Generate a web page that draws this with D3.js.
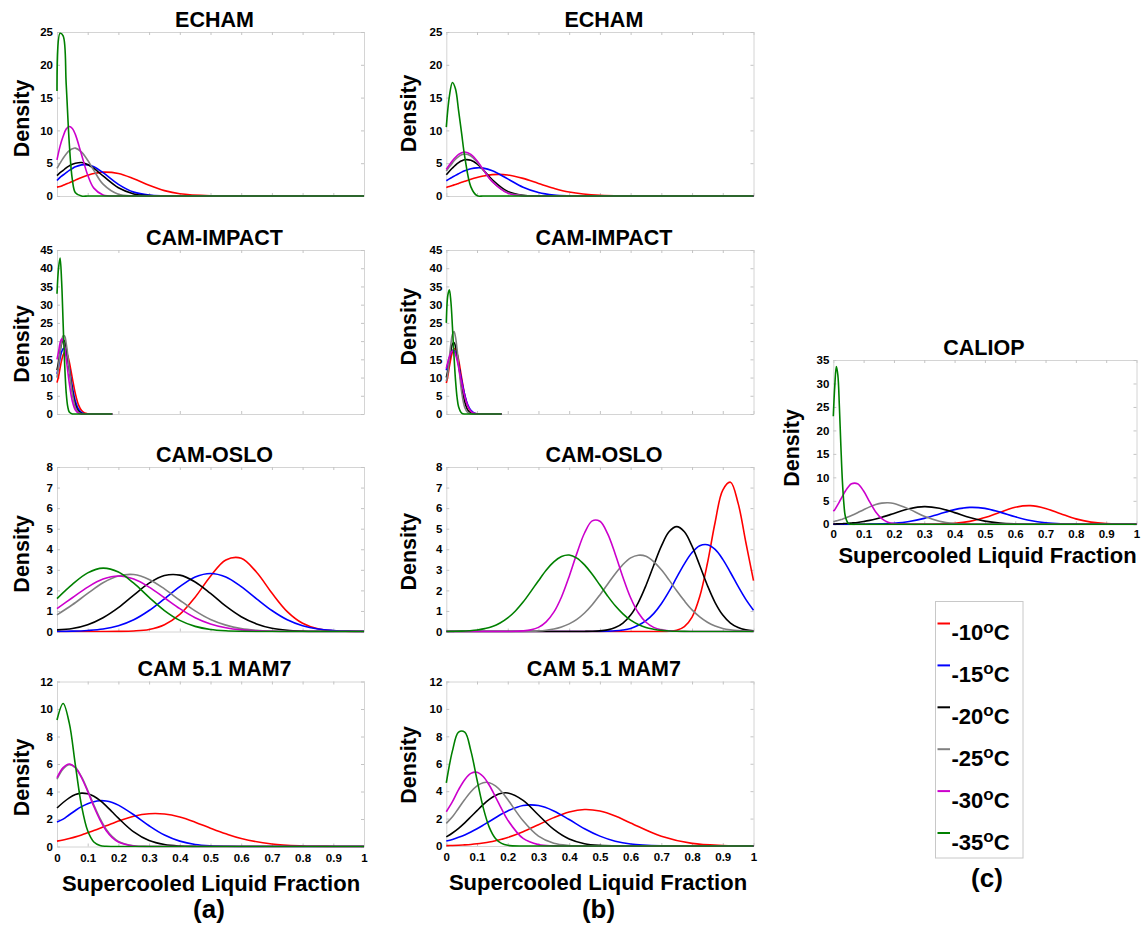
<!DOCTYPE html>
<html>
<head>
<meta charset="utf-8">
<script src="https://cdn.jsdelivr.net/npm/d3@7"></script>
<style>
  html, body { margin: 0; padding: 0; background: #fff; }
  svg { display: block; font-family: "Liberation Sans", Arial, Helvetica, sans-serif; font-weight: bold; }
</style>
</head>
<body>
<svg id="fig" width="1141" height="930"></svg>
<script>
// ---------------------------------------------------------------------------
// Data: density of supercooled liquid fraction per temperature band.
// Each panel has one x grid and six rows, ordered as in `temps`.
// ---------------------------------------------------------------------------
const temps = ["-10", "-15", "-20", "-25", "-30", "-35"];
const tempColors = ["#ff0000", "#0000ff", "#000000", "#808080", "#cc00cc", "#008000"];

const xTickLabels = ["0", "0.1", "0.2", "0.3", "0.4", "0.5", "0.6", "0.7", "0.8", "0.9", "1"];

// ECHAM
const echamX = [0, 0.01, 0.02, 0.03, 0.04, 0.05, 0.06, 0.08, 0.1, 0.12, 0.15, 0.2, 0.25, 0.3, 0.35, 0.4, 0.5, 0.6, 1];
const echamA = [
  [1.35, 1.45, 1.63, 1.82, 2.0, 2.22, 2.42, 2.81, 3.15, 3.43, 3.64, 3.43, 2.62, 1.63, 0.82, 0.34, 0.03, 0, 0],
  [2.35, 2.85, 3.2, 3.55, 3.9, 4.2, 4.45, 4.75, 4.75, 4.45, 3.55, 1.78, 0.59, 0.13, 0.02, 0, 0, 0, 0],
  [3.1, 3.55, 3.9, 4.3, 4.6, 4.85, 5.0, 5.1, 4.8, 4.2, 3.05, 1.25, 0.32, 0.05, 0, 0, 0, 0, 0],
  [4.2, 5.0, 5.75, 6.4, 6.9, 7.2, 7.3, 6.7, 5.45, 3.9, 1.8, 0.26, 0.02, 0, 0, 0, 0, 0, 0],
  [5.5, 7.6, 9.1, 10.2, 10.6, 10.3, 9.35, 6.3, 3.2, 1.2, 0.17, 0, 0, 0, 0, 0, 0, 0, 0],
  [16, 24.8, 24.4, 17, 8, 2.5, 0.5, 0, 0, 0, 0, 0, 0, 0, 0, 0, 0, 0, 0]
];
const echamB = [
  [1.31, 1.46, 1.61, 1.76, 1.92, 2.08, 2.24, 2.55, 2.82, 3.05, 3.26, 3.21, 2.69, 1.92, 1.17, 0.61, 0.1, 0.01, 0],
  [2.33, 2.61, 2.88, 3.15, 3.4, 3.64, 3.84, 4.15, 4.29, 4.25, 3.84, 2.61, 1.34, 0.53, 0.15, 0.03, 0, 0, 0],
  [3.25, 3.78, 4.27, 4.72, 5.09, 5.36, 5.52, 5.44, 4.88, 3.98, 2.46, 0.68, 0.1, 0.01, 0, 0, 0, 0, 0],
  [3.8, 4.45, 5.05, 5.6, 6.0, 6.3, 6.4, 6.1, 5.2, 4.0, 2.2, 0.5, 0.06, 0, 0, 0, 0, 0, 0],
  [4.05, 4.74, 5.37, 5.91, 6.34, 6.61, 6.7, 6.34, 5.37, 4.06, 2.18, 0.44, 0.04, 0, 0, 0, 0, 0, 0],
  [10.5, 15.2, 17.3, 16.3, 13, 9.5, 6, 1.4, 0.05, 0, 0, 0, 0, 0, 0, 0, 0, 0, 0]
];

// CAM-IMPACT (curves stop at 0.18)
const impactX = [0, 0.005, 0.01, 0.015, 0.02, 0.025, 0.03, 0.035, 0.04, 0.05, 0.06, 0.07, 0.08, 0.09, 0.1, 0.12, 0.18];
const impactA = [
  [8.6, 10.3, 12.6, 14.7, 16.2, 16.9, 16.8, 15.9, 14.3, 9.8, 5.5, 2.5, 0.94, 0.28, 0.07, 0, 0],
  [11, 13, 15.3, 17, 17.9, 17.8, 16.7, 14.9, 12.5, 7.4, 3.5, 1.3, 0.4, 0.09, 0.02, 0, 0],
  [12, 14.2, 17.2, 19.3, 20.3, 19.9, 18.1, 15.5, 12.3, 6.3, 2.5, 0.72, 0.16, 0.03, 0, 0, 0],
  [10, 13.2, 16.9, 19.9, 21.5, 21.4, 19.4, 16.2, 12.4, 5.6, 1.8, 0.4, 0.07, 0, 0, 0, 0],
  [15, 17.1, 19.5, 20.6, 20.1, 18.2, 15.2, 11.8, 8.5, 3.5, 1.05, 0.23, 0.04, 0, 0, 0, 0],
  [33, 40, 42.8, 36.5, 24.8, 13.5, 5.8, 2.0, 0.55, 0.02, 0, 0, 0, 0, 0, 0, 0]
];
const impactB = [
  [8.5, 10.4, 13, 15.3, 17, 17.9, 17.8, 16.7, 14.9, 9.9, 5.2, 2.2, 0.75, 0.2, 0.04, 0, 0],
  [12, 13.8, 15.4, 16.7, 17.4, 17.5, 16.8, 15.4, 13.5, 9.2, 5.3, 2.5, 1.0, 0.3, 0.07, 0, 0],
  [10, 11.9, 14.9, 17.5, 19.2, 19.6, 18.6, 16.6, 13.8, 7.7, 3.3, 1.05, 0.25, 0.05, 0, 0, 0],
  [9, 11.2, 15.4, 19.3, 21.9, 22.6, 21.1, 17.8, 13.7, 6.0, 1.8, 0.36, 0.05, 0, 0, 0, 0],
  [12.5, 14.2, 15.7, 16.8, 17.3, 17.2, 16.3, 14.8, 12.8, 8.5, 4.8, 2.2, 0.8, 0.2, 0.03, 0, 0],
  [25, 32.6, 34.1, 30.8, 23.9, 16, 9.3, 4.6, 2.0, 0.24, 0, 0, 0, 0, 0, 0, 0]
];

// CAM-OSLO
const osloAX = [0, 0.05, 0.1, 0.15, 0.2, 0.25, 0.3, 0.35, 0.4, 0.45, 0.5, 0.55, 0.6, 0.65, 0.7, 0.75, 0.8, 0.85, 0.9, 0.95, 1];
const osloA = [
  [0, 0, 0, 0, 0.005, 0.026, 0.1, 0.33, 0.83, 1.67, 2.69, 3.48, 3.56, 2.88, 1.87, 0.97, 0.4, 0.13, 0.035, 0.008, 0.001],
  [0.005, 0.016, 0.05, 0.12, 0.28, 0.57, 1.02, 1.59, 2.18, 2.65, 2.82, 2.65, 2.18, 1.59, 1.02, 0.57, 0.28, 0.12, 0.05, 0.016, 0.005],
  [0.08, 0.145, 0.33, 0.67, 1.16, 1.77, 2.35, 2.72, 2.74, 2.41, 1.85, 1.23, 0.72, 0.37, 0.16, 0.06, 0.02, 0.005, 0, 0, 0],
  [0.81, 1.3, 1.85, 2.37, 2.7, 2.77, 2.53, 2.07, 1.52, 1.0, 0.58, 0.31, 0.14, 0.06, 0.02, 0, 0, 0, 0, 0, 0],
  [1.11, 1.64, 2.16, 2.55, 2.7, 2.55, 2.16, 1.64, 1.11, 0.67, 0.365, 0.18, 0.077, 0.03, 0.01, 0, 0, 0, 0, 0, 0],
  [1.6, 2.29, 2.85, 3.08, 2.89, 2.35, 1.66, 1.02, 0.54, 0.25, 0.1, 0.035, 0.01, 0, 0, 0, 0, 0, 0, 0, 0]
];
const osloBX = [0, 0.025, 0.05, 0.075, 0.1, 0.125, 0.15, 0.175, 0.2, 0.225, 0.25, 0.275, 0.3, 0.325, 0.35, 0.375,
  0.4, 0.425, 0.45, 0.475, 0.5, 0.525, 0.55, 0.575, 0.6, 0.625, 0.65, 0.675, 0.7, 0.725, 0.75, 0.775,
  0.8, 0.825, 0.85, 0.875, 0.9, 0.925, 0.95, 0.975, 1];
const osloB = [
  [0, 0, 0, 0, 0, 0, 0, 0, 0, 0, 0, 0, 0, 0, 0, 0, 0, 0, 0, 0, 0, 0, 0, 0, 0, 0, 0, 0,
   0.003, 0.015, 0.065, 0.24, 0.7, 1.7, 3.32, 5.3, 6.88, 7.26, 6.23, 4.34, 2.47],
  [0, 0, 0, 0, 0, 0, 0, 0, 0, 0, 0, 0, 0, 0, 0, 0, 0, 0, 0, 0,
   0.005, 0.015, 0.034, 0.075, 0.15, 0.3, 0.53, 0.87, 1.35, 1.95, 2.63, 3.29, 3.84, 4.17, 4.22, 3.99, 3.51, 2.87, 2.19, 1.56, 1.03],
  [0, 0, 0, 0, 0, 0, 0, 0, 0, 0, 0, 0, 0, 0, 0, 0, 0, 0,
   0.003, 0.01, 0.03, 0.08, 0.19, 0.41, 0.8, 1.41, 2.24, 3.21, 4.15, 4.85, 5.1, 4.85, 4.15, 3.21, 2.24, 1.41, 0.8, 0.41, 0.19, 0.08, 0.03],
  [0, 0, 0, 0, 0, 0, 0, 0, 0,
   0.003, 0.007, 0.015, 0.03, 0.064, 0.12, 0.22, 0.37, 0.59, 0.9, 1.3, 1.78, 2.3, 2.81, 3.26, 3.58, 3.71, 3.66, 3.4, 3.0, 2.51, 1.98, 1.49, 1.05, 0.71, 0.45, 0.27, 0.15, 0.083, 0.042, 0.02, 0.01],
  [0, 0, 0, 0, 0, 0, 0, 0, 0,
   0.01, 0.03, 0.08, 0.2, 0.47, 0.94, 1.68, 2.68, 3.8, 4.79, 5.38, 5.36, 4.76, 3.76, 2.64, 1.64, 0.91, 0.45, 0.2, 0.08, 0.03, 0.01,
   0, 0, 0, 0, 0, 0, 0, 0, 0, 0],
  [0.003, 0.008, 0.017, 0.036, 0.07, 0.14, 0.24, 0.41, 0.66, 1.0, 1.43, 1.94, 2.47, 2.98, 3.39, 3.65, 3.72, 3.57, 3.24, 2.78,
   2.26, 1.73, 1.25, 0.86, 0.55, 0.34, 0.19, 0.11, 0.055, 0.027, 0.012, 0.005, 0.002, 0, 0, 0, 0, 0, 0, 0, 0]
];

// CAM 5.1 MAM7
const mamX = [0, 0.02, 0.04, 0.06, 0.08, 0.1, 0.12, 0.14, 0.16, 0.18, 0.2, 0.25, 0.3, 0.35, 0.4, 0.45, 0.5, 0.55, 0.6, 0.7, 0.8, 0.9, 1];
const mamA = [
  [0.39, 0.47, 0.58, 0.7, 0.84, 1.0, 1.16, 1.33, 1.51, 1.68, 1.85, 2.2, 2.38, 2.36, 2.14, 1.77, 1.33, 0.92, 0.58, 0.18, 0.04, 0.005, 0],
  [1.78, 1.99, 2.31, 2.62, 2.9, 3.11, 3.26, 3.33, 3.31, 3.2, 3.01, 2.31, 1.51, 0.83, 0.39, 0.15, 0.05, 0.015, 0.004, 0, 0, 0, 0],
  [2.8, 3.2, 3.54, 3.78, 3.88, 3.83, 3.65, 3.35, 2.96, 2.51, 2.06, 1.06, 0.43, 0.14, 0.035, 0.007, 0, 0, 0, 0, 0, 0, 0],
  [4.89, 5.64, 5.95, 5.74, 5.06, 4.09, 3.02, 2.04, 1.26, 0.72, 0.37, 0.05, 0.003, 0, 0, 0, 0, 0, 0, 0, 0, 0, 0],
  [5.0, 5.74, 6.0, 5.74, 5.0, 4.0, 2.91, 1.94, 1.17, 0.65, 0.33, 0.04, 0, 0, 0, 0, 0, 0, 0, 0, 0, 0, 0],
  [9.2, 10.4, 8.97, 5.9, 2.96, 1.14, 0.33, 0.075, 0.013, 0, 0, 0, 0, 0, 0, 0, 0, 0, 0, 0, 0, 0, 0]
];
const mamB = [
  [0.026, 0.039, 0.057, 0.082, 0.115, 0.16, 0.22, 0.29, 0.38, 0.49, 0.62, 1.04, 1.55, 2.07, 2.48, 2.66, 2.55, 2.19, 1.68, 0.71, 0.19, 0.033, 0.004],
  [0.37, 0.48, 0.63, 0.81, 1.02, 1.26, 1.52, 1.79, 2.06, 2.33, 2.56, 2.95, 2.95, 2.56, 1.93, 1.26, 0.72, 0.35, 0.15, 0.02, 0.001, 0, 0],
  [0.67, 0.95, 1.29, 1.69, 2.13, 2.58, 3.02, 3.4, 3.69, 3.85, 3.87, 3.33, 2.26, 1.21, 0.51, 0.17, 0.045, 0.01, 0.002, 0, 0, 0, 0],
  [1.65, 2.13, 2.76, 3.39, 3.96, 4.39, 4.62, 4.62, 4.39, 3.96, 3.39, 1.84, 0.72, 0.2, 0.04, 0.006, 0, 0, 0, 0, 0, 0, 0],
  [2.5, 3.23, 4.11, 4.84, 5.3, 5.38, 5.07, 4.43, 3.59, 2.7, 1.89, 0.55, 0.1, 0.012, 0, 0, 0, 0, 0, 0, 0, 0, 0],
  [4.6, 6.94, 8.31, 8.31, 6.94, 4.83, 2.81, 1.36, 0.55, 0.19, 0.05, 0, 0, 0, 0, 0, 0, 0, 0, 0, 0, 0, 0]
];

// CALIOP
const caliopX = [0, 0.005, 0.01, 0.015, 0.02, 0.025, 0.03, 0.035, 0.04, 0.05, 0.06, 0.08, 0.1, 0.12, 0.14, 0.16, 0.18, 0.2,
  0.25, 0.3, 0.35, 0.4, 0.45, 0.5, 0.55, 0.6, 0.65, 0.7, 0.75, 0.8, 0.85, 0.9, 1];
const caliop = [
  [0, 0, 0, 0, 0, 0, 0, 0, 0, 0, 0, 0, 0, 0, 0, 0, 0, 0, 0,
   0.01, 0.05, 0.21, 0.62, 1.43, 2.58, 3.63, 3.97, 3.38, 2.25, 1.16, 0.47, 0.15, 0.01],
  [0, 0, 0, 0, 0, 0, 0, 0, 0, 0, 0, 0,
   0.02, 0.03, 0.05, 0.09, 0.14, 0.22, 0.59, 1.26, 2.2, 3.12, 3.6, 3.39, 2.59, 1.61, 0.81, 0.34, 0.11, 0.03, 0.007, 0.001, 0],
  [0.06, 0.07, 0.08, 0.09, 0.1, 0.12, 0.13, 0.15, 0.17, 0.21, 0.27, 0.4, 0.59, 0.83, 1.13, 1.49, 1.9, 2.32,
   3.3, 3.76, 3.42, 2.49, 1.46, 0.68, 0.25, 0.077, 0.02, 0.004, 0, 0, 0, 0, 0],
  [0.57, 0.65, 0.73, 0.81, 0.9, 1.0, 1.1, 1.21, 1.33, 1.59, 1.86, 2.47, 3.11, 3.71, 4.2, 4.51, 4.6, 4.44,
   3.23, 1.69, 0.64, 0.17, 0.03, 0.004, 0, 0, 0, 0, 0, 0, 0, 0, 0],
  [2.8, 3.12, 3.64, 4.2, 4.77, 5.37, 5.97, 6.54, 7.09, 8.02, 8.64, 8.64, 7.09, 4.77, 2.64, 1.2, 0.45, 0.14,
   0.003, 0, 0, 0, 0, 0, 0, 0, 0, 0, 0, 0, 0, 0, 0],
  [23, 29.6, 33.6, 31.8, 25.2, 16.7, 9.2, 4.3, 1.6, 0.15, 0.01, 0, 0, 0, 0, 0, 0, 0,
   0, 0, 0, 0, 0, 0, 0, 0, 0, 0, 0, 0, 0, 0, 0]
];

// ---------------------------------------------------------------------------
// Layout
// ---------------------------------------------------------------------------
const svg = d3.select("#fig");
const colX = { a: [57, 364], b: [446.3, 753.5], c: [833.3, 1136.5] };
const colYLabelX = { a: 21, b: 408, c: 791 };
const colTitleDx = { a: 4, b: 4, c: -1 };

const panels = [
  { title: "ECHAM", col: "a", top: 32, bottom: 196, yMax: 25, yStep: 5, xStep: 0.1, xs: echamX, ys: echamA, labY: 118.5 },
  { title: "ECHAM", col: "b", top: 32, bottom: 196, yMax: 25, yStep: 5, xStep: 0.1, xs: echamX, ys: echamB, labY: 113.3 },
  { title: "CAM-IMPACT", col: "a", top: 250, bottom: 414, yMax: 45, yStep: 5, xStep: 0.2, xs: impactX, ys: impactA, labY: 344 },
  { title: "CAM-IMPACT", col: "b", top: 250, bottom: 414, yMax: 45, yStep: 5, xStep: 0.1, xs: impactX, ys: impactB, labY: 326.7 },
  { title: "CAM-OSLO", col: "a", top: 467, bottom: 631.5, yMax: 8, yStep: 1, xStep: 0.1, xs: osloAX, ys: osloA, labY: 553.8 },
  { title: "CAM-OSLO", col: "b", top: 467, bottom: 631.5, yMax: 8, yStep: 1, xStep: 0.1, xs: osloBX, ys: osloB, labY: 551.7 },
  { title: "CAM 5.1 MAM7", col: "a", top: 681.5, bottom: 846.5, yMax: 12, yStep: 2, xStep: 0.1, xs: mamX, ys: mamA, labY: 777.5, xLabels: true, xPad: 7 },
  { title: "CAM 5.1 MAM7", col: "b", top: 681.5, bottom: 846, yMax: 12, yStep: 2, xStep: 0.1, xs: mamX, ys: mamB, labY: 765, xLabels: true, xPad: 6.5 },
  { title: "CALIOP", col: "c", top: 360, bottom: 524.3, yMax: 35, yStep: 5, xStep: 0.1, xs: caliopX, ys: caliop, labY: 448, xLabels: true, xPad: 5.2 }
];

const boxColor = "#d4d4d4";
const tickFont = 11.5;

function styleAxis(g) {
  g.attr("font-family", null).attr("font-size", null);
  g.select(".domain").attr("stroke", boxColor);
  g.selectAll(".tick line").attr("stroke", "#c4c4c4");
  g.selectAll(".tick text").attr("fill", "#000").attr("font-size", tickFont).attr("font-weight", "bold");
}

panels.forEach((p, pi) => {
  const [x0, x1] = colX[p.col];
  const x = d3.scaleLinear().domain([0, 1]).range([x0, x1]);
  const y = d3.scaleLinear().domain([0, p.yMax]).range([p.bottom, p.top]);
  const g = svg.append("g").attr("class", "panel");

  const yTicks = d3.range(0, p.yMax + 1e-9, p.yStep);
  const xTicks = d3.range(0, 1 + 1e-9, p.xStep).map(v => Math.round(v * 10) / 10);
  const xFmt = v => xTickLabels[Math.round(v * 10)];

  // frame with inward ticks on all four sides
  g.append("g").attr("transform", `translate(0,${p.bottom})`)
    .call(d3.axisBottom(x).tickValues(xTicks).tickSizeInner(-3).tickSizeOuter(0)
      .tickPadding(p.xPad || 6).tickFormat(p.xLabels ? xFmt : () => ""))
    .call(styleAxis);
  g.append("g").attr("transform", `translate(0,${p.top})`)
    .call(d3.axisTop(x).tickValues(xTicks).tickSizeInner(-3).tickSizeOuter(0).tickFormat(() => ""))
    .call(styleAxis);
  g.append("g").attr("transform", `translate(${x0},0)`)
    .call(d3.axisLeft(y).tickValues(yTicks).tickSizeInner(-3).tickSizeOuter(0).tickPadding(4))
    .call(styleAxis);
  g.append("g").attr("transform", `translate(${x1},0)`)
    .call(d3.axisRight(y).tickValues(yTicks).tickSizeInner(-3).tickSizeOuter(0).tickFormat(() => ""))
    .call(styleAxis);

  // curves
  const clipId = "clip" + pi;
  svg.append("clipPath").attr("id", clipId)
    .append("rect").attr("x", x0 - 2).attr("y", p.top - 2)
    .attr("width", x1 - x0 + 4).attr("height", p.bottom - p.top + 3);
  const line = d3.line()
    .x(d => x(d[0]))
    .y(d => y(d[1]))
    .curve(d3.curveCatmullRom.alpha(0.5));
  const cg = g.append("g").attr("clip-path", `url(#${clipId})`);
  p.ys.forEach((row, i) => {
    cg.append("path")
      .datum(p.xs.map((xv, j) => [xv, row[j]]))
      .attr("d", line)
      .attr("fill", "none")
      .attr("stroke", tempColors[i])
      .attr("stroke-width", 1.6)
      .attr("stroke-linejoin", "round");
  });

  // title and y label
  g.append("text")
    .attr("x", (x0 + x1) / 2 + colTitleDx[p.col])
    .attr("y", p.top - 5.5)
    .attr("text-anchor", "middle")
    .attr("font-size", 21.5)
    .text(p.title);
  g.append("text")
    .attr("transform", `translate(${colYLabelX[p.col]},${p.labY}) rotate(-90)`)
    .attr("text-anchor", "middle")
    .attr("dy", "0.35em")
    .attr("font-size", 21.5)
    .text("Density");
});

// x axis titles and panel letters
const xTitles = [
  { x: 211, y: 890.5 },
  { x: 598, y: 890 },
  { x: 987.5, y: 562.5 }
];
xTitles.forEach(t => {
  svg.append("text").attr("x", t.x).attr("y", t.y)
    .attr("text-anchor", "middle").attr("font-size", 22)
    .text("Supercooled Liquid Fraction");
});
[["(a)", 209, 917.5], ["(b)", 598.5, 917.5], ["(c)", 987, 886.5]].forEach(([s, xx, yy]) => {
  svg.append("text").attr("x", xx).attr("y", yy)
    .attr("text-anchor", "middle").attr("font-size", 26).text(s);
});

// legend
const legend = svg.append("g");
legend.append("rect")
  .attr("x", 935.5).attr("y", 601.5).attr("width", 87.5).attr("height", 256.5)
  .attr("fill", "#fff").attr("stroke", "#c8c8c8").attr("stroke-width", 1);
temps.forEach((t, i) => {
  const base = 640 + i * 41.9;
  legend.append("line")
    .attr("x1", 937.5).attr("x2", 950).attr("y1", base - 16.5).attr("y2", base - 16.5)
    .attr("stroke", tempColors[i]).attr("stroke-width", 2);
  const tx = legend.append("text").attr("x", 951.5).attr("y", base).attr("font-size", 22);
  tx.append("tspan").text(t);
  tx.append("tspan").attr("dy", -7.5).attr("font-size", 17).text("o");
  tx.append("tspan").attr("dy", 7.5).text("C");
});
</script>
</body>
</html>
